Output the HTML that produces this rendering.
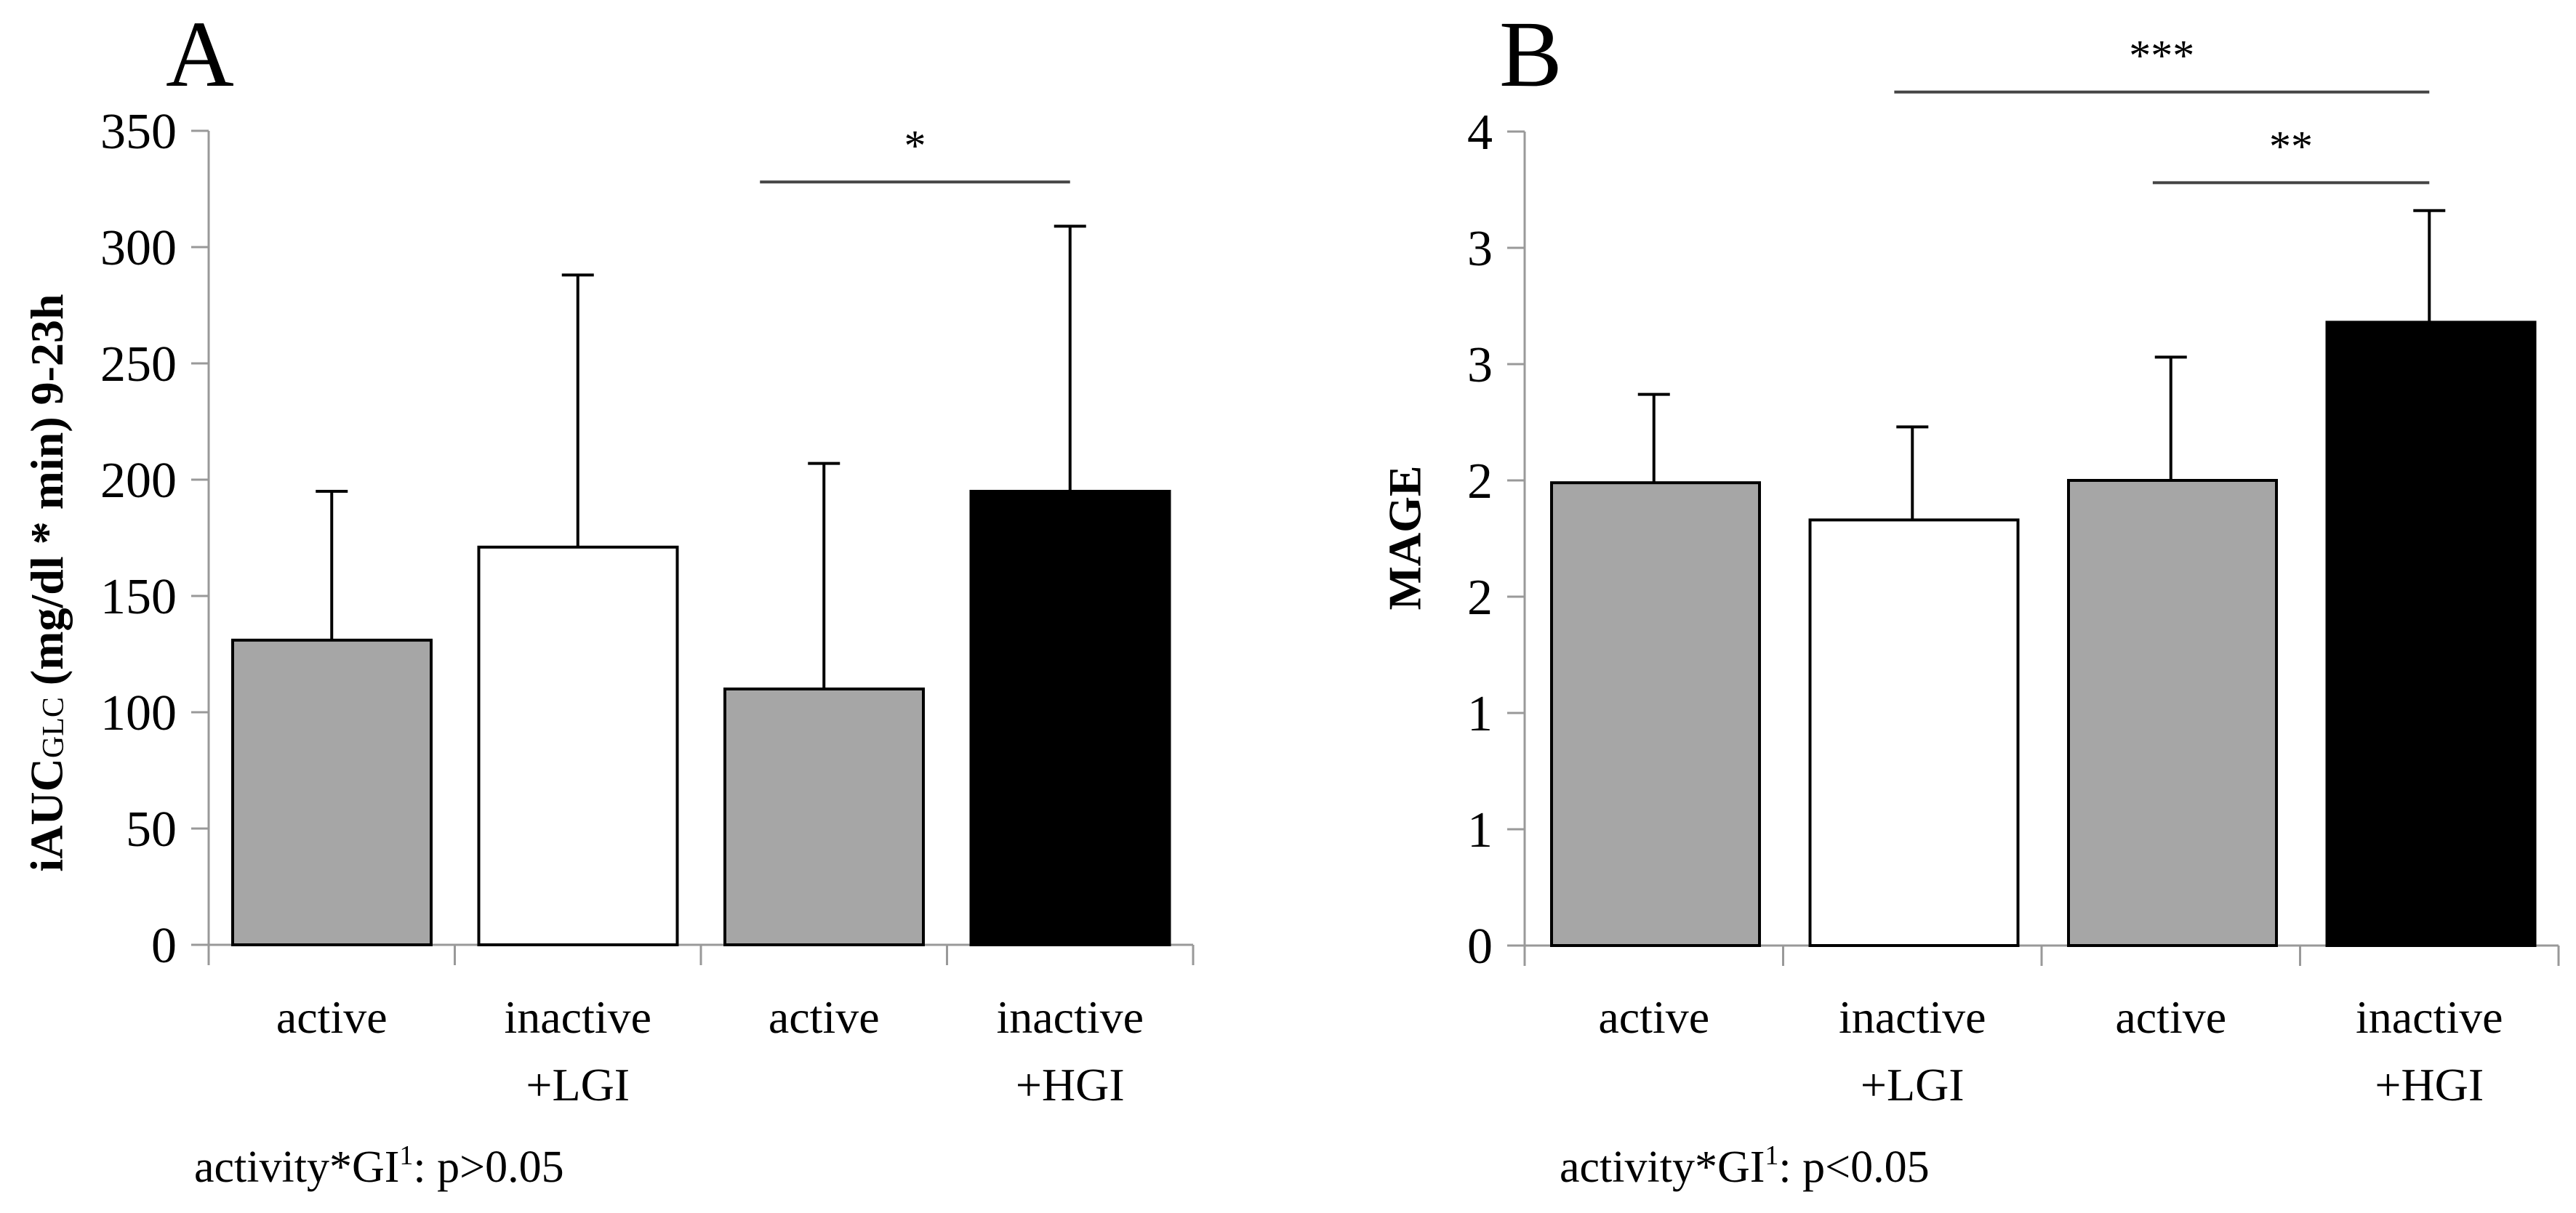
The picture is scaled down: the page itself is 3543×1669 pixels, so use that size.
<!DOCTYPE html>
<html><head><meta charset="utf-8"><style>
html,body{margin:0;padding:0;background:#fff;}
svg{display:block;font-family:"Liberation Serif",serif;}
</style></head><body>
<svg id="chart" width="3543" height="1669" viewBox="0 0 3543 1669" xmlns="http://www.w3.org/2000/svg">
<text x="228" y="118" font-size="130">A</text>
<text x="2062" y="118" font-size="130">B</text>
<text transform="translate(64,802) rotate(-90)" text-anchor="middle" dominant-baseline="central" font-size="64" font-weight="bold">iAUC<tspan font-size="42" font-weight="normal" dy="10">GLC</tspan><tspan dy="-10"> (mg/dl * min) 9-23h</tspan></text>
<text transform="translate(1932,740) rotate(-90)" text-anchor="middle" dominant-baseline="central" font-size="64" font-weight="bold">MAGE</text>
<text x="267" y="1626" font-size="62">activity*GI<tspan font-size="38" dy="-24">1</tspan><tspan dy="24">: p&gt;0.05</tspan></text>
<text x="2145" y="1626" font-size="62">activity*GI<tspan font-size="38" dy="-24">1</tspan><tspan dy="24">: p&lt;0.05</tspan></text>
<g id="pa"></g><g id="pb"></g>
</svg>
<script>
const categories = ["active", "inactive|+LGI", "active", "inactive|+HGI"];
const fills = ["#a6a6a6", "#ffffff", "#a6a6a6", "#000000"];
const valuesA = [131, 171, 110, 195];
const errA = [195, 288, 207, 309];
const tickValsA = [0,50,100,150,200,250,300,350];
const ticksA = ["0","50","100","150","200","250","300","350"];
const valuesB = [1.99, 1.83, 2.00, 2.68];
const errB = [2.37, 2.23, 2.53, 3.16];
const tickValsB = [0,0.5,1,1.5,2,2.5,3,3.5];
const ticksB = ["0","1","1","2","2","3","3","4"];
const sigA = [{from:2, to:3, val:328, label:"*"}];
const sigB = [{from:1, to:3, val:3.67, label:"***"}, {from:2, to:3, val:3.28, label:"**"}];

const NS = "http://www.w3.org/2000/svg";
function mk(parent, tag, attrs, text){
  const e = document.createElementNS(NS, tag);
  for (const k in attrs) e.setAttribute(k, attrs[k]);
  if (text !== undefined) e.textContent = text;
  parent.appendChild(e); return e;
}
function panel(g, cfg){
  const y = v => cfg.y0 - v / cfg.max * (cfg.y0 - cfg.yTop);
  const xc = i => cfg.x0 + cfg.cw * (i + 0.5);
  const ax = mk(g, "line", {x1:cfg.x0, y1:cfg.yTop, x2:cfg.x0, y2:cfg.y0, stroke:"#999", "stroke-width":3});
  
  
  cfg.tickVals.forEach((tv, i) => {
    const t = mk(g, "line", {x1:cfg.x0-24, y1:y(tv), x2:cfg.x0, y2:y(tv), stroke:"#999", "stroke-width":3});
    
    
    const l = mk(g, "text", {x:cfg.x0-44, y:y(tv)+24, "text-anchor":"end", "font-size":70}, cfg.tickLabels[i]);
    
    
  });
  const xa = mk(g, "line", {x1:cfg.x0-24, y1:cfg.y0, x2:cfg.x0+cfg.cw*4, y2:cfg.y0, stroke:"#999", "stroke-width":3});
  
  
  for (let i = 0; i <= 4; i++) {
    const s = mk(g, "line", {x1:cfg.x0+cfg.cw*i, y1:cfg.y0, x2:cfg.x0+cfg.cw*i, y2:cfg.y0+28, stroke:"#999", "stroke-width":3});
    
    
  }
  cfg.values.forEach((v, i) => {
    const bx = cfg.x0 + cfg.cw*i + cfg.off;
    const r = mk(g, "rect", {x:bx, y:y(v), width:cfg.bw, height:cfg.y0-y(v), fill:fills[i], stroke:"#000", "stroke-width":4});
    
    
    const e = mk(g, "path", {d:`M${xc(i)},${y(v)}V${y(cfg.err[i])}M${xc(i)-22},${y(cfg.err[i])}H${xc(i)+22}`, stroke:"#000", "stroke-width":4, fill:"none"});
    
    
    categories[i].split("|").forEach((p, j) => {
      const tl = mk(g, "text", {x:xc(i), y:1421 + j*93, "text-anchor":"middle", "font-size":64}, p);
      
      
    });
  });
  cfg.sig.forEach(s => {
    const x1 = xc(s.from) - cfg.cw*cfg.sigOff, x2 = xc(s.to);
    const ln = mk(g, "line", {x1:x1, y1:y(s.val), x2:x2, y2:y(s.val), stroke:"#444", "stroke-width":4});
    
    
    const st = mk(g, "text", {x:(x1 + x2)/2, y:y(s.val)-30, "text-anchor":"middle", "font-size":60}, s.label);
    
    
  });
}
panel(document.getElementById("pa"), {x0:287, cw:338.5, off:33, bw:273, y0:1300, yTop:180, max:350,
  values:valuesA, err:errA, tickVals:tickValsA, tickLabels:ticksA, sig:sigA, sigOff:0.26});
panel(document.getElementById("pb"), {x0:2097, cw:355.5, off:37, bw:286, y0:1301, yTop:181, max:3.5,
  values:valuesB, err:errB, tickVals:tickValsB, tickLabels:ticksB, sig:sigB, sigOff:0.07});
</script>
</body></html>
